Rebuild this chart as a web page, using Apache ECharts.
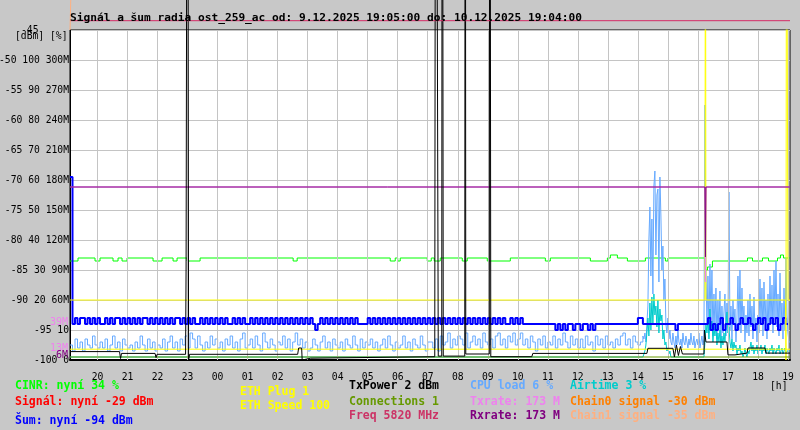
<!DOCTYPE html>
<html><head><meta charset="utf-8">
<script src="https://cdn.jsdelivr.net/npm/echarts@6/dist/echarts.min.js"></script>
<style>html,body{margin:0;padding:0;background:#c8c8c8}#c{width:800px;height:430px}</style>
</head><body><div id="c"></div>
<script>
// time axis: minutes after 19:00 on 9.12.2025; samples every 5 min starting 19:05
const START = 5, STEP = 5, END = 1444;
const FINE_START = 1152, FINE_STEP = 2;
const hourTicks = [60,120,180,240,300,360,420,480,540,600,660,720,780,840,900,960,1020,1080,1140,1200,1260,1320,1380,1440];
const hourLabels = ['20','21','22','23','00','01','02','03','04','05','06','07','08','09','10','11','12','13','14','15','16','17','18','19'];
const yTickValues = [-100,-95,-90,-85,-80,-75,-70,-65,-60,-55,-50,-45];
const yTickLabels = ['-100 0','-95 10','-90 20 60M','-85 30 90M','-80 40 120M','-75 50 150M','-70 60 180M','-65 70 210M','-60 80 240M','-55 90 270M','-50 100 300M',''];

// CPU load [%], every 5 min from 19:05 to 14:10
const cpuLoad = [
5,3,7,4,6,3,7,5,4,8,5,4,
6,4,7,3,5,8,4,6,3,7,5,4,
5,3,6,4,8,5,3,7,4,6,3,5,
4,7,3,6,8,4,6,3,7,5,8,4,
9,7,4,8,5,3,6,4,8,5,7,4,
6,3,7,5,8,4,6,3,7,9,4,5,
7,4,8,5,3,9,6,4,7,5,3,6,
5,8,4,7,3,6,9,5,7,4,6,3,
4,7,5,3,6,8,4,6,3,7,5,4,
6,3,7,5,4,8,5,3,7,4,6,5,
7,4,6,3,5,7,4,8,5,3,6,4,
5,8,4,6,3,7,5,4,8,5,3,6,
6,4,7,3,8,5,6,9,4,7,5,8,
7,5,9,4,6,8,5,7,4,9,6,5,
7,4,8,9,5,7,4,8,6,9,5,7,
9,5,7,4,8,6,3,7,5,8,4,6,
5,8,4,7,5,9,6,4,8,5,7,4,
7,4,8,5,6,3,8,5,7,4,8,5,
6,4,7,5,8,9,5,7,4,8,6,5,
6,8
];
// CPU load [%], every 2 min from 14:12 to 19:04
const cpuLoadFine = [
7,9,6,12,18,
40,51,28,47,22,
58,63,35,55,
57,26,
61,48,30,
38,20,27,12,
9,14,7,10,6,
5,9,6,4,8,5,10,6,5,7,4,9,6,5,8,6,4,7,5,9,6,5,8,4,6,7,5,9,4,6,8,5,7,
85,30,12,
28,9,32,14,30,8,22,11,24,7,
20,10,23,6,18,9,16,22,8,19,
12,56,10,18,7,20,12,17,6,14,
28,10,30,9,24,12,18,6,15,9,
20,8,22,11,18,7,21,10,14,6,
15,9,27,12,24,8,26,13,20,7,
22,10,28,12,25,9,30,14,33,11,
22,8,29,12,19,7,24,10,34,15,
9,6,6
];
// noise (Šum) [dBm], every 5 min
const noise = [
-69.5,-94,-93,-94,-93,-93,-94,-93,-94,-93,-94,-93,
-94,-94,-93,-94,-93,-94,-93,-93,-94,-93,-94,-93,
-94,-93,-94,-93,-94,-93,-93,-94,-93,-94,-93,-94,
-93,-94,-93,-94,-93,-94,-93,-93,-94,-93,-94,-93,
-94,-93,-94,-94,-93,-94,-93,-94,-93,-94,-93,-94,
-93,-94,-93,-94,-94,-93,-94,-93,-94,-93,-94,-94,
-93,-94,-93,-94,-93,-94,-93,-94,-93,-94,-93,-94,
-93,-94,-93,-94,-93,-94,-93,-94,-93,-94,-93,-94,
-93,-94,-95,-94,-93,-94,-93,-94,-93,-94,-93,-94,
-93,-94,-93,-94,-93,-94,-93,-94,-94,-94,-94,-93,
-94,-93,-94,-93,-94,-93,-94,-93,-94,-93,-94,-93,
-94,-93,-94,-93,-94,-93,-94,-93,-94,-93,-94,-93,
-94,-93,-94,-93,-94,-93,-94,-93,-94,-93,-94,-93,
-94,-93,-94,-93,-94,-93,-94,-93,-94,-93,-94,-93,
-94,-93,-94,-93,-94,-93,-94,-94,-93,-94,-93,-94,
-93,-94,-94,-94,-94,-94,-94,-94,-94,-94,-94,-94,
-94,-94,-95,-94,-95,-94,-95,-94,-94,-95,-94,-94,
-95,-94,-94,-95,-94,-95,-94,-94,-94,-94,-94,-94,
-94,-94,-94,-94,-94,-94,-94,-94,-94,-94,-94,-93,
-93,-94,-94,-94,-94,-94,-94,-94,-94,-94,-94,-94,
-94,-94,-95,-94,-94,-94,-94,-94,-94,-94,-94,-94,
-94,-94,-94,-93,-95,-94,-95,-94,-93,-95,-94,-94,
-93,-94,-95,-94,-93,-94,-94,-93,-94,-95,-94,-93,
-94,-93,-95,-94,-93,-94,-93,-95,-94,-93,-94,-94
];
// airtime [%] as [minute, value]
const airtime = [[5,1],[1150,1],[1152,2],[1154,3],[1156,5],[1158,9],[1160,14],[1162,8],[1164,19],[1166,10],[1168,21],[1170,12],[1172,22],[1174,15],
[1176,18],[1178,11],[1180,20],[1182,9],[1184,17],[1186,13],[1188,15],[1190,7],[1192,10],[1194,5],[1196,6],[1198,3],[1200,4],[1202,2],[1204,3],[1206,1],
[1272,1],[1274,6],[1276,12],[1278,9],[1280,14],[1282,7],[1284,17],[1286,10],[1288,13],[1290,6],[1292,11],[1294,8],[1296,12],[1298,5],[1300,9],
[1302,6],[1304,10],[1306,4],[1308,8],[1310,5],[1312,9],[1314,6],[1316,12],[1318,16],[1320,9],[1322,11],[1324,6],[1326,4],[1328,7],[1330,3],
[1332,6],[1334,4],[1336,5],[1338,2],[1340,4],[1342,3],[1344,5],[1346,2],[1348,3],[1350,1],[1352,2],[1354,4],[1356,2],[1358,1],[1360,3],
[1362,2],[1364,4],[1366,6],[1368,3],[1370,5],[1372,2],[1374,4],[1376,3],[1378,5],[1380,2],[1382,4],[1384,3],[1386,5],[1388,2],[1390,4],
[1392,3],[1394,5],[1396,2],[1398,4],[1400,3],[1402,2],[1404,4],[1406,3],[1408,5],[1410,2],[1412,4],[1414,3],[1416,2],[1418,4],[1420,3],
[1422,5],[1424,2],[1426,3],[1428,4],[1430,2],[1432,3],[1434,4],[1436,2],[1438,3],[1440,3],[1444,3]];
// CINR [%] as [minute, value] (step)
const cinr = [[5,33],[21,34],[55,33],[65,34],[91,33],[101,34],[109,33],[119,34],[171,33],[189,34],[211,33],[219,34],[239,33],[265,34],
[451,33],[459,34],[645,33],[655,34],[660,33],[665,34],[719,33],[727,34],[733,33],[745,34],[789,33],[799,34],[839,33],[885,34],
[955,33],[965,34],[1045,33],[1079,34],[1085,35],[1099,34],[1119,33],[1155,34],[1195,33],[1200,34],[1273,34],[1275,30],[1279,31],[1289,33],
[1359,34],[1369,33],[1389,34],[1401,33],[1419,34],[1425,35],[1431,34],[1444,34]];
// TxPower [dBm, plotted on % scale] as [minute, value]
const txPower = [[5,2.8],[104,2.8],[106,0.5],[108,2.2],[175,2.2],[177,0.8],[179,1.9],[236,1.9],[237,31],[240,300],[242,0],[244,1.9],
[460,1.9],[462,4],[468,4],[469,0],[471,0.6],[486,0.6],[488,1.1],[734,1.1],[736,300],[739,300],[741,1.3],[748,1.3],[749,300],[751,1.3],
[794,1.3],[795,300],[796,2],[843,2],[844,300],[846,1.1],[928,1.1],[930,2.2],[1158,2.2],[1160,3.9],[1210,3.9],[1213,1],[1217,5],[1221,1.5],
[1225,4.5],[1229,2],[1272,2],[1273,10],[1276,6],[1318,6],[1320,1.7],[1334,1.7],[1336,2.3],[1358,2.3],[1360,4],[1394,4],[1396,2.3],[1444,2.3]];
// rates [M]
const txRate = [[5,173],[1274,173],[1275,78],[1276,173],[1444,173]];
const rxRate = [[5,173],[1274,173],[1275,103],[1276,173],[1444,173]];
// ETH speed [Mb/s] (plotted speed/5 on % scale), ETH plug level [%], connections [%]
const ethSpeed = [[5,100],[1274,100],[1275,1000],[1276,100],[1435,100],[1436,0],[1437,1000],[1439,1000],[1440,100],[1444,100]];
const ethPlug = [[5,3.6],[1444,3.6]];
const connections = [[5,1],[1444,1]];
const freqLevel = [[5,113.1],[1444,113.1]];
const signal = [[5,-29],[1444,-29]];
const chain0 = [[5,-30],[1444,-30]];
const chain1 = [[5,-45],[8,-35],[1444,-35]];
const rateMarks = [[39,'39M','#ee82ee'],[13,'13M','#ee82ee'],[6,'6M','#800080']];

const legendTexts = ['CINR: nyní 34 %','Signál: nyní -29 dBm','Šum: nyní -94 dBm','ETH Plug 1','ETH Speed 100','TxPower 2 dBm','Connections 1','Freq 5820 MHz','CPU load 6 %','Txrate: 173 M','Rxrate: 173 M','Airtime 3 %','Chain0 signal -30 dBm','Chain1 signal -35 dBm'];
const legendColors = ['#00ff00','#ff0000','#0000ff','#ffff00','#ffff00','#000000','#669900','#cc3366','#66aaff','#ee82ee','#800080','#00cccc','#ff8000','#ffb080'];
const legendPos = [[15,386.5],[15,402],[15,421.5],[240,392],[240,406.5],[349,386.5],[349,402],[349,416.5],[470,386.5],[470,402],[470,416.5],[570,386.5],[570,402],[570,416.5]];

const pct = p => -100 + p / 2;
const mb = m => -100 + m / 6;
const series5 = arr => arr.map((v, i) => [START + STEP * i, v]);
const seriesFine = arr => arr.map((v, i) => [FINE_START + FINE_STEP * i, v]);

const chart = echarts.init(document.getElementById('c'), null, {renderer: 'canvas'});
const mono = '"DejaVu Sans Mono", "Liberation Mono", monospace';
function ln(name, data, color, z, extra) {
  return Object.assign({type: 'line', name, data, z, showSymbol: false, symbol: 'none', animation: false, silent: true,
    lineStyle: {color, width: 1}, itemStyle: {color}}, extra || {});
}
const cpuData = series5(cpuLoad).concat(seriesFine(cpuLoadFine)).map(d => [d[0], pct(d[1])]);
const option = {
  animation: false,
  backgroundColor: '#c8c8c8',
  grid: {left: 70, right: 10, top: 30, bottom: 70, outerBoundsMode: 'none', containLabel: false,
    show: true, backgroundColor: '#ffffff', borderColor: '#000', borderWidth: 1},
  xAxis: {type: 'value', min: START, max: END,
    axisLine: {show: true, lineStyle: {color: '#000', width: 2}},
    axisTick: {show: false}, splitLine: {show: false},
    axisLabel: {customValues: hourTicks, color: '#000', fontFamily: mono, fontSize: 9.7, margin: 12,
      formatter: v => { const k = hourTicks.indexOf(v); return k >= 0 ? hourLabels[k] : ''; }}},
  yAxis: {type: 'value', min: -100, max: -45, interval: 5,
    axisLine: {show: true, lineStyle: {color: '#000', width: 1}},
    axisTick: {show: false},
    splitLine: {show: true, lineStyle: {color: '#c4c4c4', width: 1}},
    axisLabel: {color: '#000', fontFamily: mono, fontSize: 9.7, margin: 1, padding: [4, 0, 0, 0],
      formatter: v => { const k = yTickValues.indexOf(Math.round(v)); return k >= 0 ? yTickLabels[k] : ''; }}},
  series: [
    {type: 'line', data: [], z: 1, silent: true, animation: false,
      markLine: {silent: true, symbol: 'none', animation: false, label: {show: false},
        lineStyle: {color: '#c4c4c4', width: 1, type: 'solid'},
        data: hourTicks.map(v => ({xAxis: v}))}},
    ln('CINR', cinr.map(d => [d[0], pct(d[1])]), '#00ff00', 2, {step: 'end'}),
    ln('CPU', cpuData, '#66aaff', 3, {step: 'end'}),
    ln('Airtime', airtime.map(d => [d[0], pct(d[1])]), '#00cccc', 4, {step: 'end'}),
    ln('Noise', series5(noise), '#0000ff', 5, {step: 'end', lineStyle: {color: '#0000ff', width: 2}}),
    ln('ETH plug', ethPlug.map(d => [d[0], pct(d[1])]), '#ffff00', 6),
    ln('ETH speed', ethSpeed.map(d => [d[0], pct(d[1] / 5)]), '#ffff00', 6),
    ln('Connections', connections.map(d => [d[0], pct(d[1])]), '#669900', 7),
    ln('Txrate', txRate.map(d => [d[0], mb(d[1])]), '#ee82ee', 8),
    ln('Rxrate', rxRate.map(d => [d[0], mb(d[1])]), '#800080', 9),
    ln('TxPower', txPower.map(d => [d[0], pct(d[1])]), '#000000', 10, {clip: false}),
    ln('Freq', freqLevel.map(d => [d[0], pct(d[1])]), '#d42a66', 10, {clip: false}),
    ln('Signal', signal, '#ff0000', 10, {clip: false}),
    ln('Chain0', chain0, '#ff8000', 10, {clip: false}),
    ln('Chain1', chain1, '#ffb080', 10, {clip: false})
  ]
};
chart.setOption(option);

const g = [];
const txt = (text, x, y, color, font, align) => ({type: 'text', x, y, silent: true, z: 100,
  style: {text, fill: color, font, align: align || 'left', verticalAlign: 'middle'}});
g.push(txt('Signál a šum radia ost_259_ac od: 9.12.2025 19:05:00 do: 10.12.2025 19:04:00', 70, 18, '#000', 'bold 11.2px ' + mono));
g.push(txt('-45', 21, 30, '#000', '9.7px ' + mono));
g.push(txt('[dBm] [%]', 15, 36.5, '#000', '9.7px ' + mono));
g.push(txt('[h]', 770, 386.5, '#000', '9.7px ' + mono));
legendTexts.forEach((t, i) => g.push(txt(t, legendPos[i][0], legendPos[i][1], legendColors[i], 'bold 11.5px ' + mono)));
rateMarks.forEach(r => {
  const y = chart.convertToPixel({yAxisIndex: 0}, mb(r[0]));
  g.push(txt(r[1], 68, y + 1.5, r[2], '10px ' + mono, 'right'));
});
chart.setOption({graphic: g});
</script></body></html>
